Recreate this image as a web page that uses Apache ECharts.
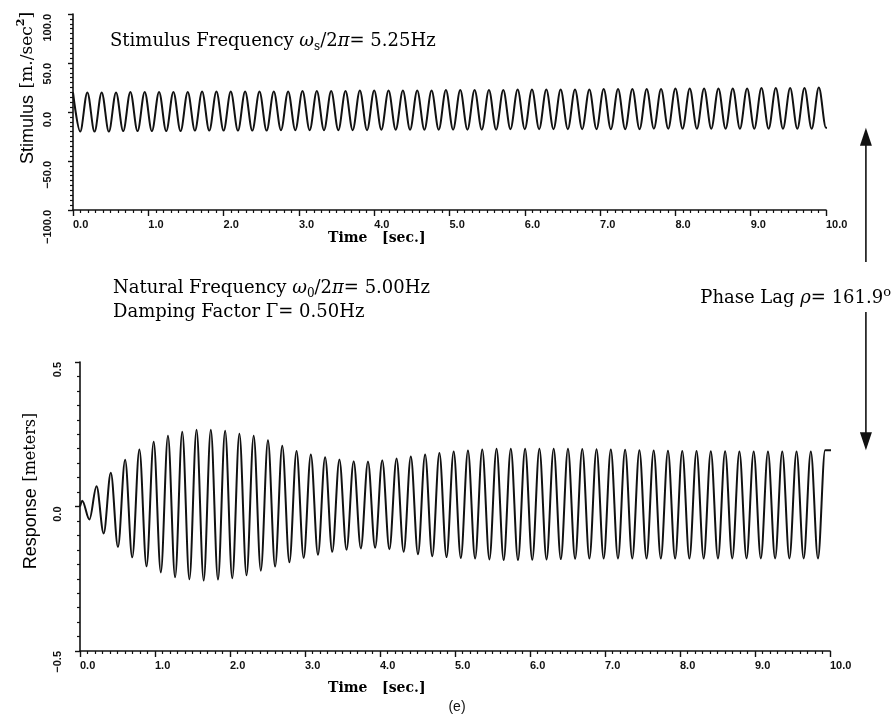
<!DOCTYPE html>
<html>
<head>
<meta charset="utf-8">
<script src="https://cdn.jsdelivr.net/npm/echarts@6/dist/echarts.min.js"></script>
<style>
  html, body { margin: 0; padding: 0; background: #ffffff; }
  #chart { width: 895px; height: 718px; }
</style>
</head>
<body>
<div id="chart"></div>
<script>
// Driven damped oscillator: stimulus (top panel) and response (bottom panel)

const STIM_FREQ = 5.25;              // Hz, drive frequency
const timeTickLabels = ['0.0', '1.0', '2.0', '3.0', '4.0', '5.0', '6.0', '7.0', '8.0', '9.0', '10.0'];
const stimulusTickLabels = ['\u2212100.0', '\u221250.0', '0.0', '50.0', '100.0'];
const responseTickLabels = ['\u22120.5', '0.0', '0.5'];

// Stimulus crest and trough values, one per cycle [m/sec^2]
const stimulusPeaks = [
  20, 20, 20, 20, 20.5, 20.5, 20.5, 20.5, 20.5, 21, 21, 21, 21, 21, 21, 21, 21.5, 21.5,
  21.5, 21.5, 22, 22, 22, 22, 22, 22, 22.5, 22.5, 22.5, 22.5, 22.5, 23, 23, 23, 23, 23,
  23, 23.5, 23.5, 23.5, 23.5, 23.5, 24, 24, 24, 24, 24, 24, 24.5, 24.5, 24.5, 24.5, 25
];
const stimulusTroughs = [
  -20, -20, -20, -19.5, -19.5, -19.5, -19.5, -19.5, -19, -19, -19, -19, -19, -19, -18.5, -18.5, -18.5, -18.5,
  -18.5, -18.5, -18.5, -18, -18, -18, -18, -18, -18, -18, -18, -18, -17.5, -17.5, -17.5, -17.5, -17.5, -17.5,
  -17.5, -17.5, -17.5, -17.5, -17, -17, -17, -17, -17, -17, -17, -17, -17, -17, -17, -17, -16
];
const stimulusHoldValue = -16;
const stimulusHoldEnd = 10.53;

// Response crest and trough values, one per cycle [m]
const responseFirstExtremum = 0.03;  // s
const responsePeaks = [
  0.02, 0.07, 0.117, 0.162, 0.197, 0.224, 0.245, 0.259, 0.266, 0.266,
  0.262, 0.252, 0.245, 0.229, 0.21, 0.192, 0.18, 0.17, 0.163, 0.157,
  0.156, 0.16, 0.166, 0.173, 0.18, 0.185, 0.19, 0.194, 0.197, 0.2,
  0.2, 0.2, 0.2, 0.2, 0.2, 0.199, 0.198, 0.197, 0.196, 0.195,
  0.194, 0.193, 0.192, 0.192, 0.191, 0.191, 0.19, 0.19, 0.19, 0.19,
  0.19, 0.19, 0.195
];
const responseTroughs = [
  -0.045, -0.093, -0.14, -0.176, -0.207, -0.228, -0.245, -0.252, -0.256, -0.253,
  -0.248, -0.238, -0.222, -0.208, -0.193, -0.178, -0.167, -0.157, -0.15, -0.145,
  -0.143, -0.148, -0.157, -0.165, -0.172, -0.175, -0.178, -0.18, -0.183, -0.185,
  -0.185, -0.184, -0.183, -0.182, -0.181, -0.18, -0.18, -0.18, -0.18, -0.18,
  -0.18, -0.18, -0.18, -0.18, -0.18, -0.18, -0.18, -0.18, -0.18, -0.18,
  -0.18, -0.18
];
const responseHoldValue = 0.195;
const responseHoldEnd = 10.48;

// Alternate crests and troughs every half period
function buildTrace(start, peaks, troughs, count) {
  const half = 0.5 / STIM_FREQ;
  const pts = [];
  for (let j = 0; j < count; j++) {
    const v = j % 2 === 0 ? peaks[j / 2] : troughs[(j - 1) / 2];
    pts.push([start + j * half, v]);
  }
  return pts;
}

const stimulusData = buildTrace(0, stimulusPeaks, stimulusTroughs, stimulusPeaks.length + stimulusTroughs.length);
stimulusData.push([stimulusHoldEnd, stimulusHoldValue]);

const responseData = [[0, 0]].concat(
  buildTrace(responseFirstExtremum, responsePeaks, responseTroughs, responsePeaks.length + responseTroughs.length)
);
responseData.push([responseHoldEnd, responseHoldValue]);

const INK = '#111111';
const serif = '"DejaVu Serif", serif';
const sans = '"Liberation Sans", Arial, sans-serif';

function timeAxis(gridIndex) {
  return {
    type: 'value', gridIndex, min: 0, max: 10, interval: 1,
    axisLine: { onZero: false, lineStyle: { color: INK, width: 1.6 } },
    axisTick: { show: true, length: 6, lineStyle: { color: INK, width: 1.4 } },
    minorTick: { show: true, splitNumber: 10, length: 3, lineStyle: { color: INK, width: 1.2 } },
    splitLine: { show: false },
    axisLabel: {
      color: INK, fontFamily: sans, fontWeight: 'bold', fontSize: 11,
      align: 'left', margin: 9, showMinLabel: true, showMaxLabel: true,
      formatter: (v) => timeTickLabels[Math.round(v)]
    }
  };
}

function valueAxis(gridIndex, min, max, interval, labels, margin) {
  return {
    type: 'value', gridIndex, min, max, interval,
    axisLine: { onZero: false, lineStyle: { color: INK, width: 1.6 } },
    axisTick: { show: true, length: 5, lineStyle: { color: INK, width: 1.4 } },
    minorTick: { show: true, splitNumber: 10, length: 3, lineStyle: { color: INK, width: 1.2 } },
    splitLine: { show: false },
    axisLabel: {
      color: INK, fontFamily: sans, fontWeight: 'bold', fontSize: 11,
      rotate: 90, align: 'right', verticalAlign: 'bottom', margin,
      formatter: (v, i) => labels[i]
    }
  };
}

const chart = echarts.init(document.getElementById('chart'), null, { renderer: 'canvas' });

const richBase = {
  t: { fontFamily: serif, fontSize: 18, color: INK, lineHeight: 24 },
  g: { fontFamily: serif, fontSize: 18, fontStyle: 'italic', color: INK, lineHeight: 24 },
  sub: { fontFamily: serif, fontSize: 12, color: INK, lineHeight: 10, verticalAlign: 'bottom' },
  sup: { fontFamily: serif, fontSize: 13, color: INK, lineHeight: 10, verticalAlign: 'top' },
  s: { fontFamily: sans, fontSize: 18, color: INK, lineHeight: 24 },
  b: { fontFamily: serif, fontSize: 17, color: INK, lineHeight: 24 },
  bm: { fontFamily: serif, fontSize: 16, color: INK, lineHeight: 24 },
  bs: { fontFamily: serif, fontSize: 11, fontWeight: 'bold', color: INK, lineHeight: 10, verticalAlign: 'top' },
  tb: { fontFamily: serif, fontSize: 14, fontWeight: 'bold', color: INK, lineHeight: 20 }
};

function label(x, y, text, align, rotation) {
  return {
    type: 'text', x, y, rotation: rotation || 0, silent: true,
    style: { text, rich: richBase, align: align || 'left', verticalAlign: 'middle' }
  };
}

chart.setOption({
  backgroundColor: '#ffffff',
  animation: false,
  grid: [
    { left: 73, top: 14, width: 753, height: 196 },
    { left: 80, top: 362, width: 750, height: 289 }
  ],
  xAxis: [timeAxis(0), timeAxis(1)],
  yAxis: [
    valueAxis(0, -100, 100, 50, stimulusTickLabels, 20),
    valueAxis(1, -0.5, 0.5, 0.5, responseTickLabels, 17)
  ],
  series: [
    {
      name: 'Stimulus', type: 'line', xAxisIndex: 0, yAxisIndex: 0,
      data: stimulusData, showSymbol: false, smooth: 0.34, smoothMonotone: 'x', clip: false,
      lineStyle: { color: INK, width: 2 }
    },
    {
      name: 'Response', type: 'line', xAxisIndex: 1, yAxisIndex: 1,
      data: responseData, showSymbol: false, smooth: 0.34, smoothMonotone: 'x', clip: false,
      lineStyle: { color: INK, width: 2 }
    }
  ]
});

// Phase-lag marker linking the held end of each trace
const pTop = chart.convertToPixel({ gridIndex: 0 }, [stimulusHoldEnd, stimulusHoldValue]);
const pBot = chart.convertToPixel({ gridIndex: 1 }, [responseHoldEnd, responseHoldValue]);
const ax = pTop[0];
const head = 18, hw = 6;

chart.setOption({
  graphic: [
    label(110, 41, '{t|Stimulus Frequency }{g|\u03c9}{sub|s}{t|/2}{g|\u03c0}{t|= 5.25Hz}'),
    label(113, 288, '{t|Natural Frequency }{g|\u03c9}{sub|0}{t|/2}{g|\u03c0}{t|= 5.00Hz}'),
    label(113, 312, '{t|Damping Factor \u0393= 0.50Hz}'),
    label(891, 298, '{t|Phase Lag }{g|\u03c1}{t|= 161.9}{sup|o}', 'right'),
    label(328, 238, '{tb|Time   [sec.]}'),
    label(328, 688, '{tb|Time   [sec.]}'),
    { type: 'text', x: 457, y: 707, silent: true,
      style: { text: '(e)', font: '14px ' + sans, fill: INK, align: 'center', verticalAlign: 'middle' } },
    label(28, 88, '{s|Stimulus}  {b|[m./sec}{bs|2}{b|]}', 'center', Math.PI / 2),
    label(31, 491, '{s|Response}  {bm|[meters]}', 'center', Math.PI / 2),
    { type: 'polygon', silent: true,
      shape: { points: [[ax, pTop[1]], [ax - hw, pTop[1] + head], [ax + hw, pTop[1] + head]] },
      style: { fill: INK } },
    { type: 'line', silent: true,
      shape: { x1: ax, y1: pTop[1] + head - 2, x2: ax, y2: 262 },
      style: { stroke: INK, lineWidth: 1.6 } },
    { type: 'line', silent: true,
      shape: { x1: ax, y1: 312, x2: ax, y2: pBot[1] - head + 2 },
      style: { stroke: INK, lineWidth: 1.6 } },
    { type: 'polygon', silent: true,
      shape: { points: [[ax, pBot[1]], [ax - hw, pBot[1] - head], [ax + hw, pBot[1] - head]] },
      style: { fill: INK } }
  ]
});
</script>
</body>
</html>
